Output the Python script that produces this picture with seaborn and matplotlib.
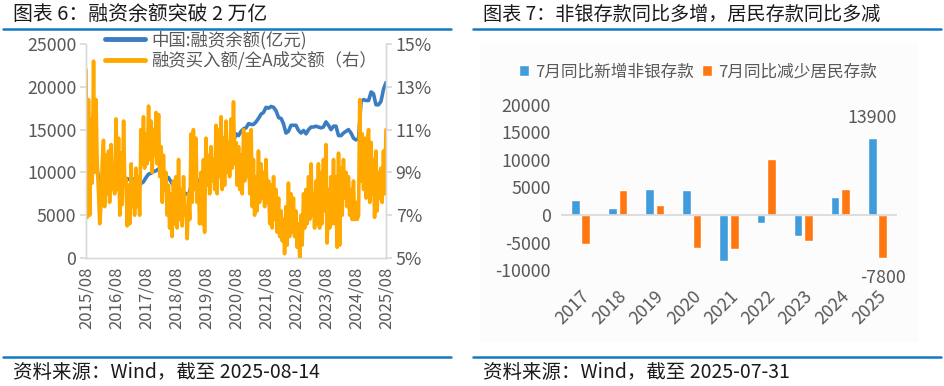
import numpy as np
import pandas as pd
import matplotlib
matplotlib.use("Agg")
import matplotlib.pyplot as plt
import matplotlib.dates as mdates
import matplotlib.ticker as mticker
from matplotlib.lines import Line2D
from matplotlib.patches import Rectangle
import seaborn as sns

# ---------------- data: left panel ----------------
# 中国:融资余额(亿元), month starts 2015/08 .. 2025/08
margin_2015 = [12500, 9100, 9400, 11600, 11700]
margin_2016 = [9100, 8400, 8700, 8600, 8300, 8300, 8500, 8800, 8800, 8900, 9200, 9300]
margin_2017 = [9200, 9200, 9200, 8900, 8600, 8700, 8900, 9400, 9800, 9900, 10100, 10200]
margin_2018 = [10400, 10000, 9800, 9400, 9400, 8900, 8500, 8100, 7800, 7500, 7600, 7500]
margin_2019 = [7400, 8400, 9600, 9300, 9000, 9000, 9100, 9300, 9400, 9500, 9600, 10100]
margin_2020 = [10400, 10900, 10400, 10600, 10800, 11500, 13600, 14500, 14300, 14800, 15100, 15200]
margin_2021 = [15700, 15600, 15600, 15900, 16300, 16800, 17000, 17600, 17500, 17700, 17600, 17200]
margin_2022 = [16400, 16300, 15700, 14600, 14800, 15500, 15500, 15500, 14900, 14600, 14900, 14500]
margin_2023 = [15000, 15300, 15300, 15400, 15300, 15200, 15300, 15900, 15500, 15000, 15400, 15400]
margin_2024 = [14300, 14300, 14600, 14800, 15000, 14600, 14000, 13800, 13900, 18300, 18500, 18400]
margin_2025 = [18400, 19400, 19200, 17900, 17900, 18300, 19700, 20500]

# 融资买入额/全A成交额（右）, %, twice a month 2015/08 .. 2025/08
ratio_2015 = [13.8, 6.9, 12.4, 7.0, 11.5, 8.5, 14.2, 9.0, 12.4, 9.5]
ratio_2016 = [8.0, 6.6, 7.5, 9.5, 10.5, 7.4, 9.8, 8.0, 10.0, 7.6, 10.3, 8.2,
              9.2, 8.0, 11.5, 8.2, 10.6, 7.0, 9.9, 7.5, 11.4, 8.4, 8.7, 6.5]
ratio_2017 = [8.4, 6.6, 9.4, 7.4, 8.6, 7.0, 9.2, 7.4, 8.8, 7.0, 11.0, 9.4,
              11.6, 9.2, 10.8, 9.4, 12.1, 9.6, 11.4, 9.0, 11.0, 9.8, 11.8, 9.4]
ratio_2018 = [11.7, 8.8, 10.2, 7.6, 9.8, 8.2, 9.0, 7.0, 8.4, 6.4, 8.0, 6.0,
              8.6, 6.6, 8.8, 6.4, 9.6, 6.8, 8.2, 6.5, 8.8, 7.0, 7.4, 5.9]
ratio_2019 = [8.0, 6.8, 10.8, 7.6, 11.0, 8.2, 10.6, 7.6, 8.4, 6.6, 9.0, 6.6,
              9.6, 6.2, 10.6, 8.4, 9.8, 8.0, 10.2, 8.6, 9.6, 8.2, 11.2, 8.0]
ratio_2020 = [11.0, 8.8, 11.6, 8.2, 10.6, 8.4, 11.4, 9.0, 10.4, 8.8, 11.5, 9.2,
              12.3, 9.4, 10.4, 8.4, 10.2, 8.2, 9.8, 8.0, 11.0, 8.6, 10.8, 8.8]
ratio_2021 = [10.8, 8.0, 11.0, 7.4, 9.6, 7.0, 8.8, 7.2, 10.0, 7.6, 9.4, 7.8,
              9.0, 7.4, 9.6, 7.6, 8.6, 6.6, 8.4, 6.4, 8.8, 6.8, 8.2, 6.2]
ratio_2022 = [7.8, 6.0, 7.2, 5.8, 6.8, 5.2, 7.4, 5.6, 8.5, 6.0, 8.0, 6.2,
              7.8, 6.0, 7.2, 5.5, 6.6, 5.0, 7.0, 5.6, 8.0, 6.4, 8.2, 6.6]
ratio_2023 = [8.8, 6.8, 9.4, 7.0, 8.0, 6.4, 8.6, 6.6, 9.4, 6.4, 9.0, 6.6,
              9.6, 7.2, 10.3, 5.7, 8.2, 6.4, 8.8, 6.6, 9.6, 6.6, 8.8, 5.5]
ratio_2024 = [9.9, 5.6, 9.2, 7.0, 9.6, 7.8, 9.0, 7.4, 8.8, 7.0, 8.2, 6.8,
              8.6, 6.8, 7.6, 6.8, 7.0, 12.4, 8.6, 10.8, 8.2, 10.6, 7.8, 10.4]
ratio_2025 = [11.0, 7.6, 10.4, 8.0, 9.6, 6.9, 10.0, 7.2, 9.0, 7.8, 9.2, 7.6,
              10.0, 8.0, 11.0]

margin_label = "中国:融资余额(亿元)"
ratio_label = "融资买入额/全A成交额（右）"

# ---------------- data: right panel ----------------
years = ["2017", "2018", "2019", "2020", "2021", "2022", "2023", "2024", "2025"]
nonbank = [2700, 1200, 4700, 4600, -8400, -1500, -3800, 3300, 13900]
household = [-5200, 4600, 1900, -6000, -6200, 10200, -4700, 4700, -7800]
nonbank_label = "7月同比新增非银存款"
household_label = "7月同比减少居民存款"

# ---------------- style ----------------
BLUE = "#3B7DC1"
ORANGE = "#FFA800"
BAR_BLUE = "#409CDB"
BAR_ORANGE = "#FF7711"
RULE = "#1479C4"
TICK = "#595959"
GRID = "#D9D9D9"

sns.set_theme(style="white")
plt.rcParams["font.family"] = ["Noto Sans CJK SC", "DejaVu Sans"]
plt.rcParams["axes.unicode_minus"] = False

W, H = 944, 386
fig = plt.figure(figsize=(W / 100, H / 100), dpi=100)

margin = (margin_2015 + margin_2016 + margin_2017 + margin_2018 + margin_2019 + margin_2020
          + margin_2021 + margin_2022 + margin_2023 + margin_2024 + margin_2025)
ratio = (ratio_2015 + ratio_2016 + ratio_2017 + ratio_2018 + ratio_2019 + ratio_2020
         + ratio_2021 + ratio_2022 + ratio_2023 + ratio_2024 + ratio_2025)
df_m = pd.DataFrame({"date": pd.date_range("2015-08-01", periods=len(margin), freq="MS"),
                     "value": margin})
df_r = pd.DataFrame({"date": pd.date_range("2015-08-01", periods=len(ratio), freq="SMS"),
                     "value": ratio})

# ---------------- left panel ----------------
ax1 = fig.add_axes([86 / W, 1 - 258 / H, 300 / W, 214 / H])
sns.lineplot(data=df_m, x="date", y="value", ax=ax1, color=BLUE, lw=2.6, legend=False)
ax2 = ax1.twinx()
sns.lineplot(data=df_r, x="date", y="value", ax=ax2, color=ORANGE, lw=2.6, legend=False)

ax1.set_ylim(0, 25000)
ax1.set_yticks(np.arange(0, 25001, 5000))
ax2.set_ylim(5, 15)
ax2.set_yticks(np.arange(5, 15.1, 2))
ax2.yaxis.set_major_formatter(mticker.FuncFormatter(lambda v, p: f"{v:.0f}%"))
ax1.set_xlim(df_m["date"].iloc[0], df_m["date"].iloc[-1])
ax1.set_xticks(pd.date_range("2015-08-01", "2025-08-01", freq="12MS"))
ax1.xaxis.set_major_formatter(mdates.DateFormatter("%Y/%m"))
for a in (ax1, ax2):
    a.set_xlabel("")
    a.set_ylabel("")
    for s in a.spines.values():
        s.set_color(GRID)
        s.set_linewidth(1.0)
    a.spines["top"].set_visible(False)
ax1.tick_params(axis="y", length=4, color=GRID, labelsize=12.8, labelcolor=TICK, pad=3)
ax2.tick_params(axis="y", length=4, color=GRID, labelsize=12.8, labelcolor=TICK, pad=3)
ax1.tick_params(axis="x", length=0, labelsize=12, labelcolor=TICK, pad=6, rotation=90)

handles = [Line2D([], [], color=BLUE, lw=3.5), Line2D([], [], color=ORANGE, lw=3.5)]
ax2.legend(handles, [margin_label, ratio_label], loc="upper left",
           bbox_to_anchor=(105 / W, 1 - 31 / H), bbox_transform=fig.transFigure,
           frameon=False, fontsize=12.5, handlelength=2.3, handletextpad=0.35,
           labelspacing=0.1, borderpad=0, borderaxespad=0, labelcolor=TICK)

# ---------------- right panel ----------------
fig.patches.append(Rectangle((480 / W, 1 - 342 / H), 438 / W, 299 / H,
                             transform=fig.transFigure, facecolor="#FCFCFC",
                             edgecolor="none", zorder=-5))
ax3 = fig.add_axes([562 / W, 1 - 281.3 / H, 334 / W, 182.3 / H])
ax3.set_facecolor("none")
ax3.set_zorder(2)
df_b = pd.DataFrame({"year": years * 2,
                     "value": nonbank + household,
                     "series": [nonbank_label] * len(years) + [household_label] * len(years)})
sns.barplot(data=df_b, x="year", y="value", hue="series",
            palette=[BAR_BLUE, BAR_ORANGE], width=0.56, gap=0.17, ax=ax3,
            saturation=1, legend=True)
ax3.set_ylim(-12000, 21000)
ax3.set_yticks(np.arange(-10000, 20001, 5000))
ax3.set_xlim(-0.5, len(years) - 0.5)
ax3.set_xlabel("")
ax3.set_ylabel("")
for k in ("left", "right", "top"):
    ax3.spines[k].set_visible(False)
ax3.spines["bottom"].set_position(("data", 0))
ax3.spines["bottom"].set_color(GRID)
ax3.set_xticks(np.arange(-0.5, len(years), 1), minor=True)
ax3.tick_params(axis="x", which="major", length=0, labelbottom=False)
ax3.tick_params(axis="x", which="minor", length=4, color=GRID, direction="out")
ax3.tick_params(axis="y", length=0, labelsize=12.8, labelcolor=TICK, pad=8)

sec = ax3.secondary_xaxis("bottom")
sec.set_xticks(range(len(years)))
sec.set_xticklabels(years, rotation=45, ha="right", rotation_mode="anchor")
sec.tick_params(length=0, labelsize=12.8, labelcolor=TICK, pad=4)
sec.spines["bottom"].set_visible(False)

nb_labels = [""] * (len(years) - 1) + [str(nonbank[-1])]
hh_labels = [""] * (len(years) - 1) + [str(household[-1])]
ax3.bar_label(ax3.containers[0], labels=nb_labels, padding=8, fontsize=12.8, color=TICK)
ax3.bar_label(ax3.containers[1], labels=hh_labels, padding=8, fontsize=12.8, color=TICK)

h, l = ax3.get_legend_handles_labels()
ax3.legend(h, l, loc="center", bbox_to_anchor=(698 / W, 1 - 72 / H),
           bbox_transform=fig.transFigure, ncol=2, frameon=False, fontsize=12,
           handlelength=0.6, handleheight=0.6, handletextpad=0.35, columnspacing=0.5,
           labelcolor=TICK)

# ---------------- titles, rules, sources ----------------
fig.text(13 / W, 1 - 14 / H, "图表 6：融资余额突破 2 万亿", fontsize=14.3, va="center", color="#1a1a1a")
fig.text(483 / W, 1 - 14 / H, "图表 7：非银存款同比多增，居民存款同比多减", fontsize=13.8,
         va="center", color="#1a1a1a")
for x0, x1 in ((3, 451), (473, 941)):
    for yy in (29, 357):
        fig.add_artist(Line2D([x0 / W, x1 / W], [1 - yy / H, 1 - yy / H],
                              transform=fig.transFigure, color=RULE, lw=1.8))
fig.text(13 / W, 1 - 373 / H, "资料来源：Wind，截至 2025-08-14", fontsize=14, va="center",
         color="#1a1a1a")
fig.text(483 / W, 1 - 373 / H, "资料来源：Wind，截至 2025-07-31", fontsize=14, va="center",
         color="#1a1a1a")

fig.savefig("out.png", dpi=100)
